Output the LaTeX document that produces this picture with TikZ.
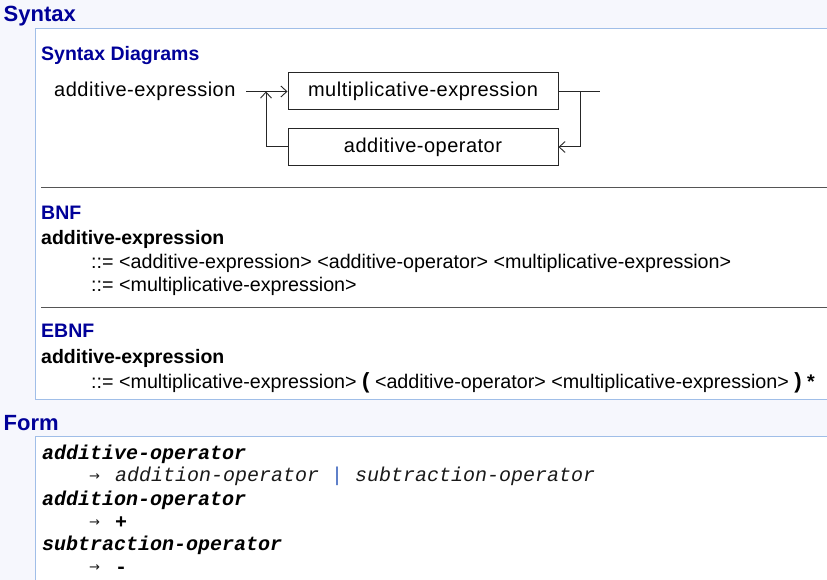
\documentclass[tikz,border=0pt]{standalone}
\usepackage{fontspec}
\setmainfont{Liberation Sans}
\setmonofont{Liberation Mono}
\newfontfamily\railfont[LetterSpace=2.5]{Liberation Sans}
\newfontfamily\arrowfont{DejaVu Sans}
\usetikzlibrary{arrows.meta, positioning}
\definecolor{pagebg}{RGB}{246,247,253}
\definecolor{panelline}{RGB}{160,190,232}
\definecolor{headblue}{RGB}{0,0,153}
\definecolor{rulegray}{RGB}{85,85,85}
\definecolor{barblue}{RGB}{60,100,190}
\tikzstyle{heading} = [anchor=base west, inner sep=0, text=headblue, font=\fontsize{22}{26}\selectfont\bfseries]
\tikzstyle{subheading} = [anchor=base west, inner sep=0, text=headblue, font=\fontsize{19.5}{24}\selectfont\bfseries]
\tikzstyle{rulename} = [anchor=base west, inner sep=0, font=\fontsize{19.5}{24}\selectfont\bfseries]
\tikzstyle{ruletext} = [anchor=base west, inner sep=0, font=\fontsize{19.7}{24}\selectfont]
\tikzstyle{formname} = [anchor=base west, inner sep=0, font=\fontsize{20}{24}\selectfont\ttfamily\bfseries\itshape]
\tikzstyle{formtext} = [anchor=base west, inner sep=0, text=black!90, font=\fontsize{20}{24}\selectfont\ttfamily\itshape]
\tikzstyle{formsym} = [anchor=base west, inner sep=0, font=\fontsize{20}{24}\selectfont\ttfamily\bfseries]
\tikzstyle{arrowglyph} = [anchor=base west, inner sep=0, text=black!90, font=\arrowfont\fontsize{13}{14}\selectfont]
\tikzstyle{panel} = [fill=white, draw=panelline, line width=1pt]
\tikzstyle{sepline} = [draw=rulegray, line width=1.2pt]
\tikzstyle{railbox} = [draw=black!85, line width=1pt, minimum width=270pt, minimum height=37pt, inner sep=0,
   font=\railfont\fontsize{20}{24}\selectfont]
\tikzstyle{rail} = [draw=black!85, line width=1pt]
\tikzstyle{railArrow} = [rail, -{Straight Barb[length=6pt, width=11pt, line width=0.9pt]}]

\begin{document}
\begin{tikzpicture}[x=1pt, y=-1pt]
  \useasboundingbox (0,0) rectangle (827,580);
  \fill[pagebg] (0,0) rectangle (827,580);
  \draw[panel] (35.5,28.5) rectangle (840,399.5);
  \draw[panel] (35.5,436.5) rectangle (840,600);

  \node[heading] (syntaxHead) at (3.5,22) {Syntax};
  \node[subheading] (diagHead) at (41,60.7) {Syntax Diagrams};

  % syntax diagram
  \node[anchor=base west, inner sep=0, font=\railfont\fontsize{20}{24}\selectfont] (lhs) at (54,96.5) {additive-expression};
  \node[railbox] (mulBox) at (423,91.5) {multiplicative-expression};
  \node[railbox] (addBox) at (423,147) {additive-operator};
  \coordinate (railIn) at (246,91.5);
  \coordinate (loopIn) at (266,91.5);
  \coordinate (loopOut) at (580,91.5);
  \coordinate (railOut) at (600,91.5);
  \draw[railArrow] (railIn) -- (mulBox);
  \draw[railArrow] (addBox) -| (loopIn);
  \draw[rail] (mulBox) -- (railOut);
  \draw[railArrow] (loopOut) |- (addBox);

  \draw[sepline] (41,187.5) -- (840,187.5);
  \node[subheading] (bnfHead) at (41,219.3) {BNF};
  \node[rulename] (bnfName) at (41,244) {additive-expression};
  \node[ruletext] (bnfAltA) at (91,268.3) {::= <additive-expression> <additive-operator> <multiplicative-expression>};
  \node[ruletext] (bnfAltB) at (91,291.7) {::= <multiplicative-expression>};

  \draw[sepline] (41,307.5) -- (840,307.5);
  \node[subheading] (ebnfHead) at (41,337.3) {EBNF};
  \node[rulename] (ebnfName) at (41,363.3) {additive-expression};
  \node[ruletext] (ebnfAlt) at (91,388.3) {::= <multiplicative-expression> {\fontsize{22}{24}\selectfont\bfseries (}
    <additive-operator> <multiplicative-expression> {\fontsize{22}{24}\selectfont\bfseries )} {\bfseries *}};

  \node[heading] (formHead) at (3.5,430) {Form};
  \node[formname] (formA) at (42,459.3) {additive-operator};
  \node[arrowglyph] (arrA) at (89,480.5) {→};
  \node[formtext] (formAltA) at (115,481.7) {addition-operator {\color{barblue}\upshape|} subtraction-operator};
  \node[formname] (formB) at (42,505) {addition-operator};
  \node[arrowglyph] (arrB) at (89,526.8) {→};
  \node[formsym] (formAltB) at (115,528) {+};
  \node[formname] (formC) at (42,550) {subtraction-operator};
  \node[arrowglyph] (arrC) at (89,571.8) {→};
  \node[formsym] (formAltC) at (115,573) {-};
\end{tikzpicture}
\end{document}
